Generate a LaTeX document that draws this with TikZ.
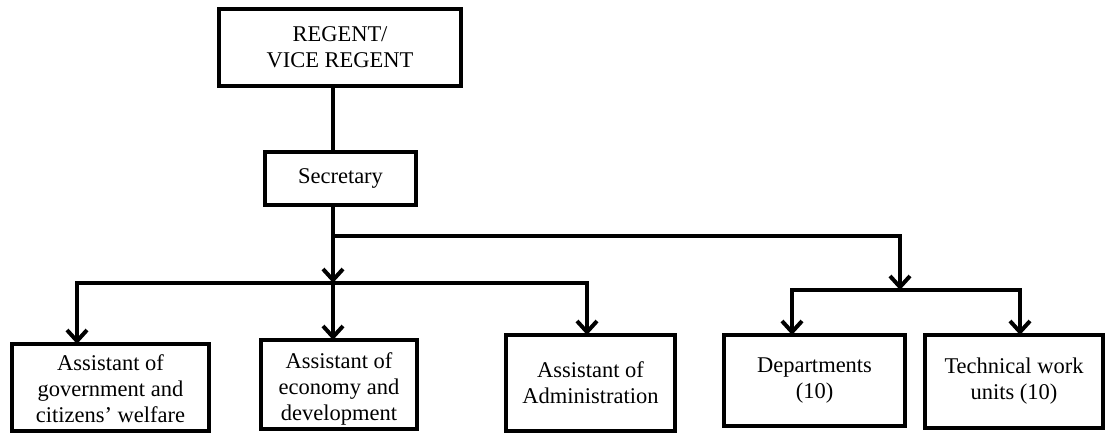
\documentclass[tikz,border=0pt]{standalone}
\usepackage{fontspec}
\setmainfont{Liberation Serif}
\usetikzlibrary{arrows.meta}
% stacked centred lines moved down without changing the box size
\newcommand{\lowstack}[2]{\raisebox{#1}[\height][\depth]{\begin{tabular}{@{}c@{}}#2\end{tabular}}}
\begin{document}
\begin{tikzpicture}[x=1pt,y=-1pt,
  orgbox/.style={draw, line width=4pt, inner sep=0pt, align=center,
    font=\fontsize{22.5}{26}\selectfont},
  link/.style={line width=4pt},
  arr/.style={line width=4pt, -{Straight Barb[length=11pt,width=20pt]}}]
\useasboundingbox (0,0) rectangle (1106,436);

% boxes (size = border centre line)
\node[orgbox, minimum width=242pt, minimum height=77pt] (regent) at (340,47.5) {REGENT/\\VICE REGENT};
\node[orgbox, minimum width=151pt, minimum height=53pt] (secretary) at (340.5,178.5) {Secretary};
\node[orgbox, minimum width=197pt, minimum height=87pt] (gov) at (110.5,387.5) {\lowstack{-4pt}{Assistant of\\government and\\citizens' welfare}};
\node[orgbox, minimum width=156pt, minimum height=89pt] (eco) at (339,384.5) {\lowstack{-5pt}{Assistant of\\economy and\\development}};
\node[orgbox, minimum width=169pt, minimum height=96pt] (adm) at (590.5,383) {Assistant of\\Administration};
\node[orgbox, minimum width=181pt, minimum height=91pt] (dep) at (814.5,380.5) {Departments\\(10)};
\node[orgbox, minimum width=178pt, minimum height=93pt] (tech) at (1014,381.5) {Technical work\\units (10)};

% routing points
\coordinate (trunk) at (333,236);
\coordinate (busL) at (333,283);
\coordinate (busR) at (900,290);
\coordinate (xgov) at (77,0);
\coordinate (xadm) at (587,0);
\coordinate (xdep) at (792,0);
\coordinate (xtech) at (1020,0);

% regent to secretary
\draw[link] (regent.south -| trunk) -- (secretary.north -| trunk);

% secretary down to the assistants' bus
\draw[arr] (secretary.south -| trunk) -- (busL);
\draw[link] (busL -| xgov) -- (busL -| xadm);
\draw[arr] ([yshift=2pt]busL -| xgov) -- ([yshift=-2pt]gov.north -| xgov);
\draw[arr] (busL) -- ([yshift=-2pt]eco.north -| trunk);
\draw[arr] ([yshift=2pt]busL -| xadm) -- ([yshift=-2pt]adm.north -| xadm);

% branch to departments and technical units
\draw[arr] (trunk) -- (trunk -| busR) -- (busR);
\draw[link] (busR -| xdep) -- (busR -| xtech);
\draw[arr] ([yshift=2pt]busR -| xdep) -- ([yshift=-2pt]dep.north -| xdep);
\draw[arr] ([yshift=2pt]busR -| xtech) -- ([yshift=-2pt]tech.north -| xtech);
\end{tikzpicture}
\end{document}
